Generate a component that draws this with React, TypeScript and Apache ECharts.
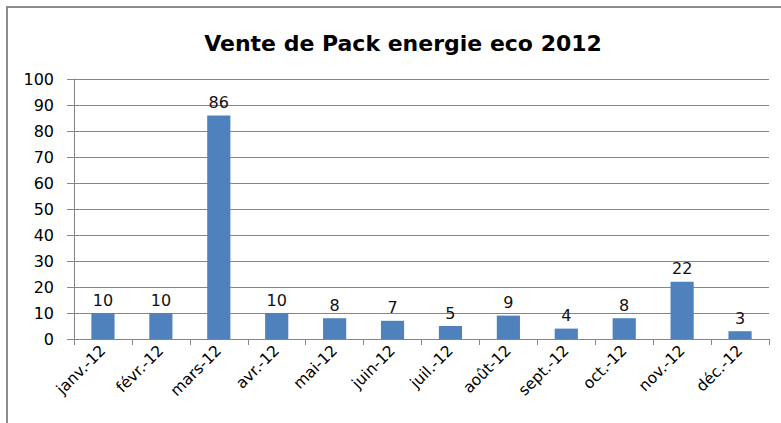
import React, { useEffect, useRef } from "react";
import * as echarts from "echarts";

const categories = [
  "janv.-12", "févr.-12", "mars-12", "avr.-12", "mai-12", "juin-12",
  "juil.-12", "août-12", "sept.-12", "oct.-12", "nov.-12", "déc.-12",
];
const values = [10, 10, 86, 10, 8, 7, 5, 9, 4, 8, 22, 3];
const titleText = "Vente de Pack energie eco 2012";

export default function App() {
  const ref = useRef<HTMLDivElement>(null);
  useEffect(() => {
    document.body.style.margin = "0";
    const chart = echarts.init(ref.current!, null, { renderer: "svg" });
    const font = "DejaVu Sans";
    chart.setOption({
      animation: false,
      backgroundColor: "#fff",
      title: {
        text: titleText,
        left: 398,
        textAlign: "center",
        top: 27,
        textStyle: { fontFamily: font, fontSize: 22, fontWeight: "bold", color: "#000" },
      },
      graphic: [
        {
          type: "rect",
          shape: { x: 7, y: 7, width: 820, height: 460 },
          style: { fill: "none", stroke: "#8c8c8c", lineWidth: 2 },
          silent: true,
        },
      ],
      grid: { left: 74, right: 12, top: 79, bottom: 84, containLabel: false },
      xAxis: {
        type: "category",
        data: categories,
        boundaryGap: true,
        axisLine: { lineStyle: { color: "#868686", width: 1 } },
        axisTick: { show: true, length: 6, lineStyle: { color: "#868686" } },
        axisLabel: {
          rotate: 45,
          interval: 0,
          margin: 9,
          fontFamily: font,
          fontSize: 15.5,
          color: "#000",
        },
      },
      yAxis: {
        type: "value",
        min: 0,
        max: 100,
        interval: 10,
        axisLine: { show: true, lineStyle: { color: "#868686", width: 1 } },
        axisTick: { show: true, length: 7, lineStyle: { color: "#868686" } },
        splitLine: { show: true, lineStyle: { color: "#868686", width: 1 } },
        axisLabel: { margin: 20, fontFamily: font, fontSize: 16, color: "#000" },
      },
      series: [
        {
          type: "bar",
          data: values,
          barWidth: "40%",
          itemStyle: { color: "#4F81BD" },
          label: {
            show: true,
            position: "top",
            distance: 5,
            fontFamily: font,
            fontSize: 16,
            color: "#111",
          },
        },
      ],
    });
    return () => chart.dispose();
  }, []);
  return <div ref={ref} style={{ width: 781, height: 423 }} />;
}
